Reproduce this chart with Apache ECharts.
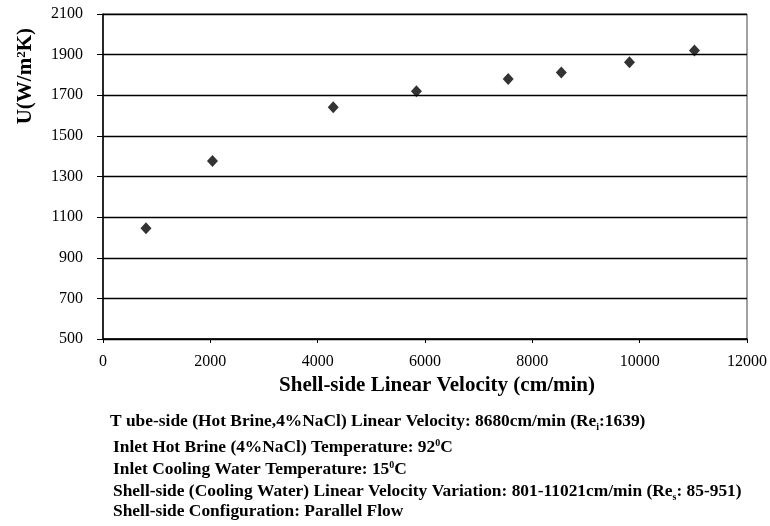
<!DOCTYPE html>
<html>
<head>
<meta charset="utf-8">
<script src="https://cdn.jsdelivr.net/npm/echarts@6/dist/echarts.min.js"></script>
<style>
  html, body { margin: 0; padding: 0; background: #fff; }
  #chart { width: 770px; height: 526px; }
</style>
</head>
<body>
<div id="chart"></div>
<script>
const velocity = [801, 2040, 4290, 5840, 7550, 8540, 9810, 11021];
const uValues = [1045, 1376, 1641, 1720, 1780, 1812, 1862, 1920];

const notes = [
  'T ube-side (Hot Brine,4%NaCl) Linear Velocity: 8680cm/min (Re{sub|i}:1639)',
  'Inlet Hot Brine (4%NaCl) Temperature: 92{sup|0}C',
  'Inlet Cooling Water Temperature: 15{sup|0}C',
  'Shell-side (Cooling Water) Linear Velocity Variation: 801-11021cm/min (Re{sub|s}: 85-951)',
  'Shell-side Configuration: Parallel Flow'
];

const serif = '"Liberation Serif", "Times New Roman", serif';
const chart = echarts.init(document.getElementById('chart'));

chart.setOption({
  animation: false,
  grid: { left: 103, right: 16, top: 14, bottom: 187, show: true, borderColor: '#444', borderWidth: 1 },
  xAxis: {
    type: 'value',
    min: 0, max: 12000, interval: 2000,
    name: 'Shell-side Linear Velocity (cm/min)',
    nameLocation: 'middle',
    nameGap: 34,
    nameTextStyle: { fontFamily: serif, fontWeight: 'bold', fontSize: 21, color: '#000', padding: [0, 0, 0, 24] },
    axisLine: { lineStyle: { color: '#000', width: 1.5 } },
    axisTick: { show: true, length: 4, lineStyle: { color: '#000' } },
    axisLabel: { fontFamily: serif, fontSize: 16, color: '#000', margin: 15, formatter: v => String(v) },
    splitLine: { show: false }
  },
  yAxis: {
    type: 'value',
    min: 500, max: 2100, interval: 200,
    axisLine: { show: true, lineStyle: { color: '#000', width: 1.5 } },
    axisTick: { show: true, length: 6, lineStyle: { color: '#000' } },
    axisLabel: { fontFamily: serif, fontSize: 16, color: '#000', margin: 20, formatter: v => String(v) },
    splitLine: { show: true, lineStyle: { color: '#000', width: 1.3 } }
  },
  series: [{
    type: 'scatter',
    data: velocity.map((v, i) => [v, uValues[i]]),
    symbol: 'diamond',
    symbolSize: [11, 12],
    itemStyle: { color: '#000' }
  }],
  graphic: [
    {
      type: 'text',
      left: 15, top: 28,
      rotation: Math.PI / 2,
      style: {
        text: 'U(W/m{sup|2}K)',
        font: 'bold 21px ' + serif,
        fill: '#000',
        rich: {
          sup: { fontFamily: serif, fontWeight: 'bold', fontSize: 13, verticalAlign: 'top', fill: '#000' }
        }
      }
    }
  ].concat(notes.map((t, i) => ({
    type: 'text',
    left: i === 0 ? 110 : 113,
    top: [412, 438, 460, 482, 502][i],
    style: {
      text: t,
      font: 'bold 17.4px ' + serif,
      fill: '#000',
      lineHeight: 20,
      rich: {
        sub: { fontFamily: serif, fontWeight: 'bold', fontSize: 10, verticalAlign: 'bottom', lineHeight: 20, fill: '#000' },
        sup: { fontFamily: serif, fontWeight: 'bold', fontSize: 10, verticalAlign: 'top', lineHeight: 20, fill: '#000' }
      }
    }
  })))
});
</script>
</body>
</html>
